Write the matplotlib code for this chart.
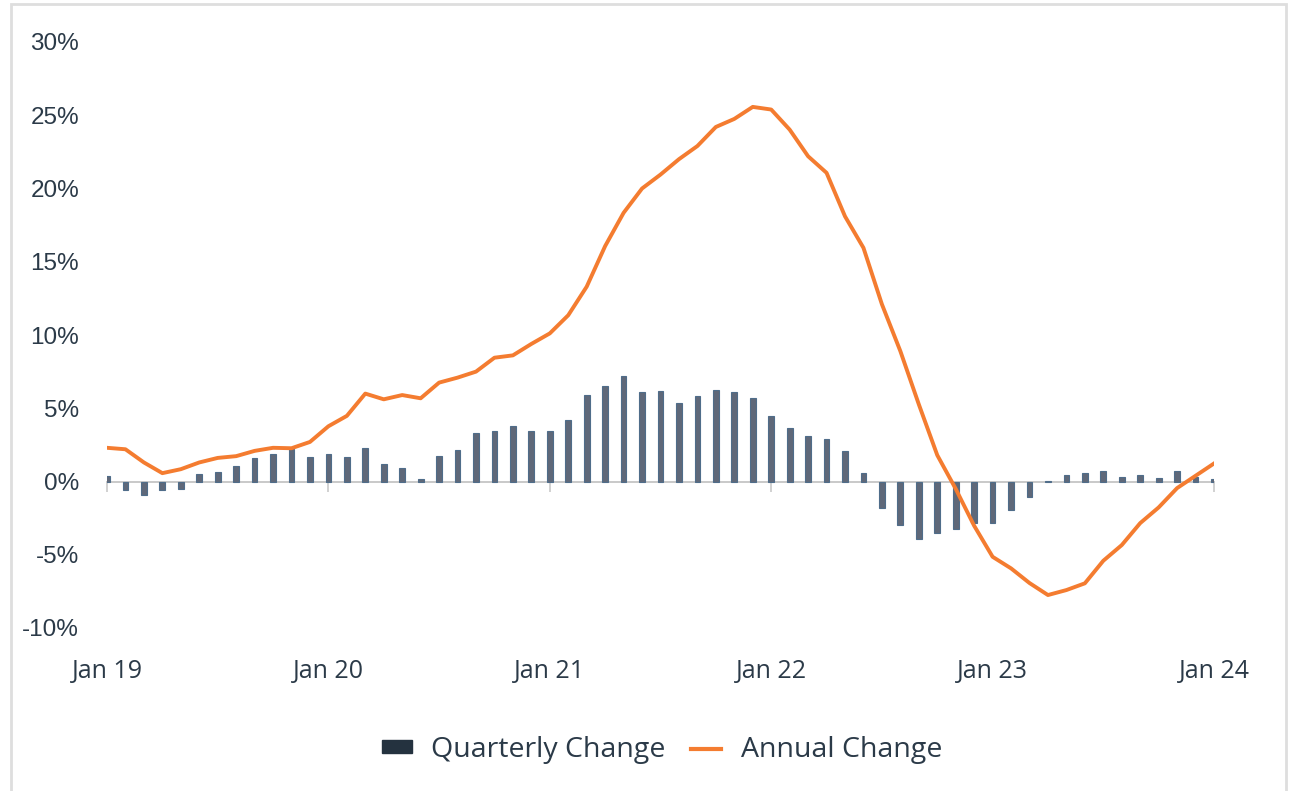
import matplotlib
matplotlib.use("Agg")
import matplotlib.pyplot as plt
from matplotlib.patches import Patch, Rectangle
from matplotlib.lines import Line2D
from matplotlib.ticker import FuncFormatter

# ---- data (monthly, Jan 2019 .. Jan 2024) ----
months = [f"{m} {y}" for y in range(19, 25) for m in
          ["Jan", "Feb", "Mar", "Apr", "May", "Jun", "Jul", "Aug", "Sep", "Oct", "Nov", "Dec"]][:61]

quarterly = [0.4, -0.57, -0.95, -0.59, -0.5, 0.5, 0.68, 1.09, 1.61, 1.89, 2.2, 1.68,
             1.89, 1.68, 2.27, 1.2, 0.89, 0.16, 1.75, 2.16, 3.32, 3.48, 3.8, 3.45,
             3.45, 4.2, 5.89, 6.55, 7.2, 6.11, 6.16, 5.39, 5.84, 6.25, 6.11, 5.7,
             4.45, 3.64, 3.09, 2.93, 2.09, 0.61, -1.84, -2.95, -3.9, -3.52, -3.25, -2.82,
             -2.8, -1.93, -1.07, 0.05, 0.43, 0.59, 0.73, 0.3, 0.43, 0.25, 0.75, 0.3,
             0.18]

annual = [2.3, 2.2, 1.3, 0.57, 0.84, 1.3, 1.61, 1.73, 2.09, 2.3, 2.27, 2.7,
          3.77, 4.48, 6.0, 5.61, 5.9, 5.68, 6.75, 7.09, 7.5, 8.45, 8.61, 9.39,
          10.11, 11.35, 13.3, 16.07, 18.34, 20.0, 20.95, 22.0, 22.9, 24.2, 24.75, 25.57,
          25.39, 24.02, 22.2, 21.07, 18.1, 15.95, 12.1, 8.9, 5.27, 1.8, -0.5, -3.02,
          -5.14, -5.93, -6.93, -7.75, -7.41, -6.95, -5.41, -4.34, -2.84, -1.77, -0.45, 0.39,
          1.23]

xtick_pos = [0, 12, 24, 36, 48, 60]
xtick_labels = ["Jan 19", "Jan 20", "Jan 21", "Jan 22", "Jan 23", "Jan 24"]
yticks = [-10, -5, 0, 5, 10, 15, 20, 25, 30]

TEXT = "#2b3a48"
ORANGE = "#f47c30"
BAR = "#5f6879"
BAR_EDGE = "#4f6d8a"
LEGEND_BAR = "#24323f"
XFONT = ["Open Sans", "DejaVu Sans"]

W, H = 1294, 791
fig = plt.figure(figsize=(W / 100, H / 100), dpi=100)
fig.patch.set_facecolor("white")

# outer light frame
fig.patches.append(Rectangle((11 / W, -0.01), (1286 - 11) / W, (791 - 4) / H + 0.01,
                             transform=fig.transFigure, fill=False,
                             edgecolor="#dedede", linewidth=2))

left, right = 107 / W, 1214 / W
top, bottom = 1 - 42 / H, 1 - 628 / H
ax = fig.add_axes([left, bottom, right - left, top - bottom])

x = list(range(len(months)))
ax.bar(x, quarterly, width=0.31, color=BAR, edgecolor=BAR_EDGE, linewidth=0.8, zorder=2)
ax.plot(x, annual, color=ORANGE, linewidth=2.8, zorder=3, solid_joinstyle="round")

ax.set_xlim(0, 60)
ax.set_ylim(-10, 30)

for s in ax.spines.values():
    s.set_visible(False)

ax.set_yticks(yticks)
ax.yaxis.set_major_formatter(FuncFormatter(lambda v, p: f"{int(v)}%"))
ax.tick_params(axis="y", length=0, pad=20, labelsize=17.5, labelcolor=TEXT)
for lab in ax.get_yticklabels():
    lab.set_fontfamily(["Liberation Sans", "DejaVu Sans"])

ax.set_xticks(xtick_pos)
ax.set_xticklabels(xtick_labels)
ax.tick_params(axis="x", length=0, pad=22, labelsize=18, labelcolor=TEXT)
for lab in ax.get_xticklabels():
    lab.set_fontfamily(XFONT)

# zero line with year ticks
zero_frac = (0 - (-10)) / 40
sec = ax.secondary_xaxis(zero_frac)
sec.set_xticks(xtick_pos)
sec.set_xticklabels([""] * len(xtick_pos))
sec.spines["bottom"].set_color("#c9c9c9")
sec.spines["bottom"].set_linewidth(1.4)
sec.tick_params(axis="x", direction="out", length=7, width=1.2, color="#c9c9c9")
sec.set_zorder(1)

handles = [Patch(facecolor=LEGEND_BAR, edgecolor=LEGEND_BAR),
           Line2D([0], [0], color=ORANGE, linewidth=3)]
leg = fig.legend(handles, ["Quarterly Change", "Annual Change"], loc="center",
                 bbox_to_anchor=(662 / W, 1 - 750 / H), ncol=2, frameon=False,
                 handlelength=1.05, handleheight=0.3, handletextpad=0.68, columnspacing=0.9,
                 prop={"family": XFONT, "size": 20.5})
for t in leg.get_texts():
    t.set_color(TEXT)

fig.savefig("out.png", dpi=100, facecolor="white")
